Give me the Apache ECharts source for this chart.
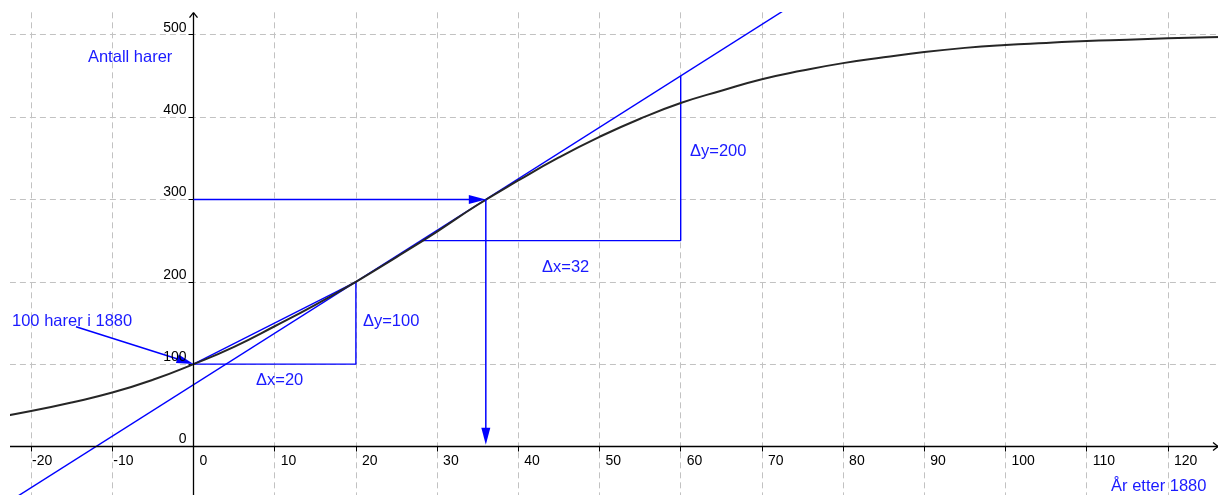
<!DOCTYPE html>
<html><head><meta charset="utf-8">
<script src="https://cdn.jsdelivr.net/npm/echarts@6/dist/echarts.min.js"></script>
<style>html,body{margin:0;padding:0;background:#fff}#c{width:1221px;height:495px}</style>
</head><body><div id="c"></div>
<script>
// ---- data ----
const curveX = [-25,-20,-15,-10,-5,0,5,10,15,20,25,30,35,40,45,50,55,60,65,70,75,80,85,90,95,100,105,110,115,120,125,130];
const curveY = [34,43,53.5,65.5,81,100,121,146,172,200,230,261,293.5,323,351,376,398,417,432,446,456.5,465.5,472.5,479,484,487.5,490,492.4,494,495.6,497,498];
const tangentLine = [[-25,-81.25],[76,550]];
const chordLine = [[0,100],[20,200]];
const triangle1 = [[0,100],[20,100],[20,200]];
const triangle2 = [[28,250],[60,250],[60,450]];
const arrowFrom = [[0,300],[36,300],[-14.47,145.5]];
const arrowTo = [[36,300],[36,2],[0,100.2]];
const axisFrom = [[-22.6,0],[0,-62]];
const axisTo = [[126.17,0],[0,526.7]];
const xTickLabels = [-20,-10,0,10,20,30,40,50,60,70,80,90,100,110,120];
const yTickLabels = [0,100,200,300,400,500];
const textLabels = ['Antall harer','100 harer i 1880','\u0394y=100','\u0394x=20','\u0394y=200','\u0394x=32','\u00C5r etter 1880'];
const textX = [-13.0,-22.35,20.87,7.70,61.15,42.92,113.0];
const textY = [472.9,151.5,151.5,80.7,357.9,217.1,-48.8];
const xRange = [-30,130], xStep = 10;
const yRange = [-100,600], yStep = 100;

// ---- layout (pixel anchors of the view) ----
const W = 1221, H = 495;
const x0px = 193.5, xScale = 8.12;   // px per x unit
const y0px = 446.5, yScale = 0.8236; // px per y unit
const gLeft = x0px + xRange[0]*xScale;
const gRight = W - (x0px + xRange[1]*xScale);
const gTop = y0px - yRange[1]*yScale;
const gBottom = H - (y0px - yRange[0]*yScale);

const BLUE = '#0000ff';
const TXT_BLUE = '#1a1aff';
const FONT = '"Liberation Sans", Arial, sans-serif';

const chart = echarts.init(document.getElementById('c'), null, {renderer:'canvas'});

function arrowItem(params, api){
  const i = params.dataIndex;
  const p1 = api.coord(arrowFrom[i]), p2 = api.coord(arrowTo[i]);
  const dx = p2[0]-p1[0], dy = p2[1]-p1[1], L = Math.hypot(dx,dy);
  const ux = dx/L, uy = dy/L, hl = 17, hw = 4.5;
  const bx = p2[0]-ux*hl, by = p2[1]-uy*hl;
  return {type:'group', children:[
    {type:'line', shape:{x1:p1[0],y1:p1[1],x2:bx+ux*2,y2:by+uy*2}, style:{stroke:BLUE,lineWidth:1.5}},
    {type:'polygon', shape:{points:[[p2[0],p2[1]],[bx-uy*hw,by+ux*hw],[bx+uy*hw,by-ux*hw]]}, style:{fill:BLUE}}
  ]};
}
function axisItem(params, api){
  const i = params.dataIndex;
  const p1 = api.coord(axisFrom[i]), p2 = api.coord(axisTo[i]);
  const dx = p2[0]-p1[0], dy = p2[1]-p1[1], L = Math.hypot(dx,dy);
  const ux = dx/L, uy = dy/L, hl = 5, hw = 4;
  const bx = p2[0]-ux*hl, by = p2[1]-uy*hl;
  const st = {stroke:'#000', lineWidth:1.3};
  return {type:'group', children:[
    {type:'line', shape:{x1:p1[0],y1:p1[1],x2:p2[0],y2:p2[1]}, style:st},
    {type:'line', shape:{x1:p2[0],y1:p2[1],x2:bx-uy*hw,y2:by+ux*hw}, style:st},
    {type:'line', shape:{x1:p2[0],y1:p2[1],x2:bx+uy*hw,y2:by-ux*hw}, style:st}
  ]};
}
function textItem(params, api){
  const i = params.dataIndex;
  const p = api.coord([textX[i], textY[i]]);
  return {type:'text', x:p[0], y:p[1], style:{text:textLabels[i], fill:TXT_BLUE, font:'16.5px '+FONT, align:'left', verticalAlign:'middle'}};
}
function xLabelItem(params, api){
  const v = xTickLabels[params.dataIndex];
  const p = api.coord([v, 0]);
  return {type:'text', x:p[0] + (v < 0 ? 1 : 6), y:p[1] + 8,
    style:{text:String(v), fill:'#000', font:'14px '+FONT, align:'left', verticalAlign:'top'}};
}
function yLabelItem(params, api){
  const v = yTickLabels[params.dataIndex];
  const p = api.coord([0, v]);
  return {type:'text', x:p[0] - 7, y:p[1],
    style:{text:String(v), fill:'#000', font:'14px '+FONT, align:'right', verticalAlign:'bottom'}};
}

const blueLine = (data) => ({type:'line', data, showSymbol:false, symbol:'none', smooth:false, animation:false,
  lineStyle:{color:BLUE, width:1.4}, z:3, silent:true});

chart.setOption({
  animation:false,
  backgroundColor:'#fff',
  grid:{left:gLeft, right:gRight, top:gTop, bottom:gBottom, containLabel:false, outerBoundsMode:'none'},
  xAxis:{type:'value', min:xRange[0], max:xRange[1], interval:xStep,
    axisLine:{show:true, onZero:true, lineStyle:{opacity:0}},
    axisTick:{show:true, length:5, inside:false, lineStyle:{color:'#000', width:1}},
    splitLine:{show:true, lineStyle:{color:'#c2c2c2', type:[6,4], width:1}},
    axisLabel:{show:false}
  },
  yAxis:{type:'value', min:yRange[0], max:yRange[1], interval:yStep,
    axisLine:{show:true, onZero:true, lineStyle:{opacity:0}},
    axisTick:{show:true, length:5, inside:false, lineStyle:{color:'#000', width:1}},
    splitLine:{show:true, lineStyle:{color:'#c2c2c2', type:[6,4], width:1}},
    axisLabel:{show:false}
  },
  series:[
    {type:'line', data:curveX.map((x,i)=>[x,curveY[i]]), smooth:true, showSymbol:false, symbol:'none',
      lineStyle:{color:'#262626', width:2}, z:4, silent:true},
    blueLine(tangentLine),
    blueLine(chordLine),
    blueLine(triangle1),
    blueLine(triangle2),
    {type:'custom', renderItem:axisItem, data:axisFrom.map(p=>[p[0],p[1]]), z:5, silent:true, clip:false},
    {type:'custom', renderItem:arrowItem, data:arrowFrom.map(p=>[p[0],p[1]]), z:6, silent:true, clip:false},
    {type:'custom', renderItem:textItem, data:textX.map((x,i)=>[x,textY[i]]), z:7, silent:true, clip:false},
    {type:'custom', renderItem:xLabelItem, data:xTickLabels.map(v=>[v,0]), z:7, silent:true, clip:false},
    {type:'custom', renderItem:yLabelItem, data:yTickLabels.map(v=>[0,v]), z:7, silent:true, clip:false}
  ],
  graphic:[
    {type:'rect', left:0, top:0, shape:{width:W, height:12}, style:{fill:'#fff'}, z:100, silent:true},
    {type:'rect', left:0, top:0, shape:{width:10, height:H}, style:{fill:'#fff'}, z:100, silent:true},
    {type:'rect', left:1218, top:0, shape:{width:3, height:H}, style:{fill:'#fff'}, z:100, silent:true}
  ]
});
</script></body></html>
